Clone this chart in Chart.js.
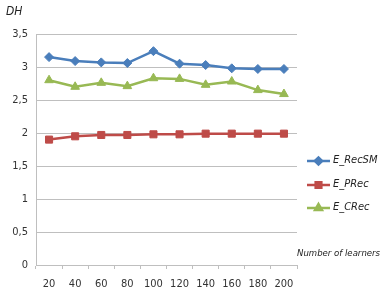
<!DOCTYPE html>
<html lang="en">
<head>
<meta charset="UTF-8">
<title>DH chart</title>
<script src="https://cdn.jsdelivr.net/npm/chart.js@4.4.0/dist/chart.umd.min.js"></script>
<style>
  html, body { margin: 0; padding: 0; background: #fff; }
  #wrap { position: relative; width: 390px; height: 299px; }
</style>
</head>
<body>
<div id="wrap"><canvas id="myChart" width="390" height="299"></canvas></div>
<script>
// data
const learners = ["20", "40", "60", "80", "100", "120", "140", "160", "180", "200"];
const recSM = [3.15, 3.09, 3.07, 3.06, 3.24, 3.05, 3.03, 2.98, 2.97, 2.97];
const pRec  = [1.90, 1.95, 1.97, 1.97, 1.98, 1.98, 1.99, 1.99, 1.99, 1.99];
const cRec  = [2.80, 2.70, 2.76, 2.71, 2.83, 2.82, 2.73, 2.78, 2.65, 2.59];
const seriesNames = ["E_RecSM", "E_PRec", "E_CRec"];
const yTicks = [0, 0.5, 1, 1.5, 2, 2.5, 3, 3.5];

const font = "'DejaVu Sans Condensed', 'Liberation Sans', sans-serif";

// legend + axis titles drawn on the canvas
const extras = {
  id: "extras",
  afterDraw(chart) {
    const ctx = chart.ctx;
    ctx.save();
    ctx.fillStyle = "#222";
    ctx.font = "italic 12px " + font;
    ctx.textBaseline = "middle";
    ctx.fillText("DH", 6, 12);
    ctx.font = "italic 9.5px " + font;
    ctx.fillText("Number of learners", 297, 254);

    const ys = [161, 185, 208];
    chart.data.datasets.forEach((ds, i) => {
      const y = ys[i];
      ctx.strokeStyle = ds.borderColor;
      ctx.lineWidth = 2.5;
      ctx.beginPath();
      ctx.moveTo(307, y);
      ctx.lineTo(330, y);
      ctx.stroke();
      Chart.helpers.drawPoint(ctx, {
        pointStyle: ds.pointStyle,
        radius: ds.pointRadius * 0.8,
        borderWidth: 1
      }, 318.5, y);
      ctx.fillStyle = ds.borderColor;
      ctx.fill();
      ctx.fillStyle = "#222";
      ctx.font = "italic 11px " + font;
      ctx.fillText(ds.label, 333, y - 1);
    });
    ctx.restore();
  }
};

new Chart("myChart", {
  type: "line",
  data: {
    labels: learners,
    datasets: [
      { label: seriesNames[0], data: recSM, borderColor: "#4a7ebb", backgroundColor: "#4a7ebb",
        pointStyle: "rectRot", pointRadius: 4.5 },
      { label: seriesNames[1], data: pRec, borderColor: "#be4b48", backgroundColor: "#be4b48",
        pointStyle: "rect", pointRadius: 5 },
      { label: seriesNames[2], data: cRec, borderColor: "#98b954", backgroundColor: "#98b954",
        pointStyle: "triangle", pointRadius: 5 }
    ].map(d => Object.assign(d, { borderWidth: 2.5, pointBorderWidth: 1, tension: 0 }))
  },
  options: {
    responsive: false,
    animation: false,
    layout: { padding: { top: 34, right: 93, left: 0, bottom: 0 } },
    plugins: { legend: { display: false }, tooltip: { enabled: false } },
    scales: {
      x: {
        offset: true,
        grid: { display: true, offset: true, drawOnChartArea: false, tickLength: 4, color: "#bfbfbf" },
        border: { color: "#bfbfbf" },
        ticks: { color: "#333", font: { size: 11, family: font }, padding: 9, maxRotation: 0 },
        afterFit(s) { s.height = 34; }
      },
      y: {
        min: 0, max: 3.5,
        afterBuildTicks(s) { s.ticks = yTicks.map(v => ({ value: v })); },
        grid: { color: "#bfbfbf", drawTicks: false },
        border: { color: "#bfbfbf" },
        ticks: {
          color: "#333", font: { size: 11, family: font }, padding: 8,
          callback: v => String(v).replace(".", ",")
        },
        afterFit(s) { s.width = 36; }
      }
    }
  },
  plugins: [extras]
});
</script>
</body>
</html>
